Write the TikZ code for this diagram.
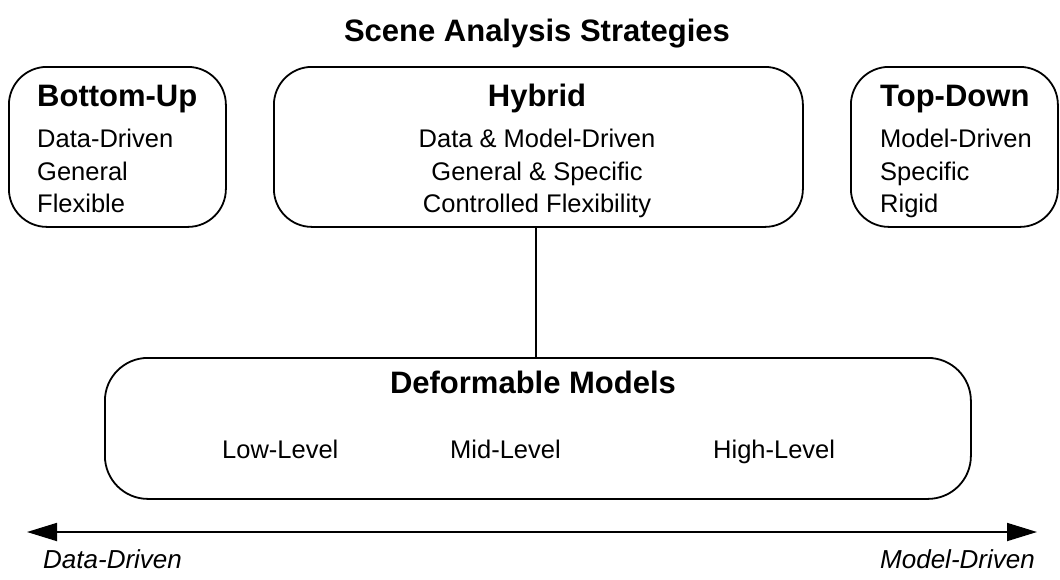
\documentclass[tikz,border=0pt]{standalone}
\usepackage{fontspec}
\setmainfont{Liberation Sans}
\usetikzlibrary{arrows.meta}
\tikzset{
  box/.style={draw, line width=1.8pt, rounded corners=38pt, inner sep=0pt, anchor=north west},
  hd/.style={font=\fontsize{31}{31}\selectfont\bfseries, inner sep=0pt},
  ln/.style={font=\fontsize{25.5}{25.5}\selectfont, inner sep=0pt},
  lab/.style={font=\fontsize{26}{26}\selectfont\itshape, inner sep=0pt},
  conn/.style={line width=1.4pt},
}
\begin{document}
\begin{tikzpicture}[x=1pt,y=-1pt]
\useasboundingbox (0,0) rectangle (1060,579);
% title
\node[hd, anchor=base] (title) at (537,41) {Scene Analysis Strategies};
% boxes
\node[box, minimum width=217pt, minimum height=160pt] (bu) at (8,66) {};
\node[box, minimum width=529pt, minimum height=160pt] (hy) at (273,66) {};
\node[box, minimum width=207pt, minimum height=160pt] (td) at (850,66) {};
\node[box, rounded corners=43pt, minimum width=866pt, minimum height=141pt] (dm) at (104,357) {};
% bottom-up text
\node[hd, anchor=base west] (buh) at (37,106) {Bottom-Up};
\node[ln, anchor=base west] (bu1) at (37,147) {Data-Driven};
\node[ln, anchor=base west] (bu2) at (37,180) {General};
\node[ln, anchor=base west] (bu3) at (37,212) {Flexible};
% hybrid text
\node[hd, anchor=base] (hyh) at (537,106) {Hybrid};
\node[ln, anchor=base] (hy1) at (537,147) {Data \& Model-Driven};
\node[ln, anchor=base] (hy2) at (537,180) {General \& Specific};
\node[ln, anchor=base] (hy3) at (537,212) {Controlled Flexibility};
% top-down text
\node[hd, anchor=base west] (tdh) at (880,106) {Top-Down};
\node[ln, anchor=base west] (td1) at (880,147) {Model-Driven};
\node[ln, anchor=base west] (td2) at (880,180) {Specific};
\node[ln, anchor=base west] (td3) at (880,212) {Rigid};
% deformable models text
\node[hd, anchor=base] (dmh) at (533,393) {Deformable Models};
\node[ln, anchor=base west] (dm1) at (222,458) {Low-Level};
\node[ln, anchor=base west] (dm2) at (450,458) {Mid-Level};
\node[ln, anchor=base west] (dm3) at (713,458) {High-Level};
% connector
\draw[conn] (hy.south -| 536,0) -- (dm.north -| 536,0);
% axis arrow
\coordinate (al) at (27,532);
\coordinate (ar) at (1037,532);
\draw[line width=1.8pt, {Triangle[length=30pt,width=18pt]}-{Triangle[length=30pt,width=18pt]}] (al) -- (ar);
\node[lab, anchor=base west] (ld) at (43,568) {Data-Driven};
\node[lab, anchor=base east] (lm) at (1035,568) {Model-Driven};
\end{tikzpicture}
\end{document}
